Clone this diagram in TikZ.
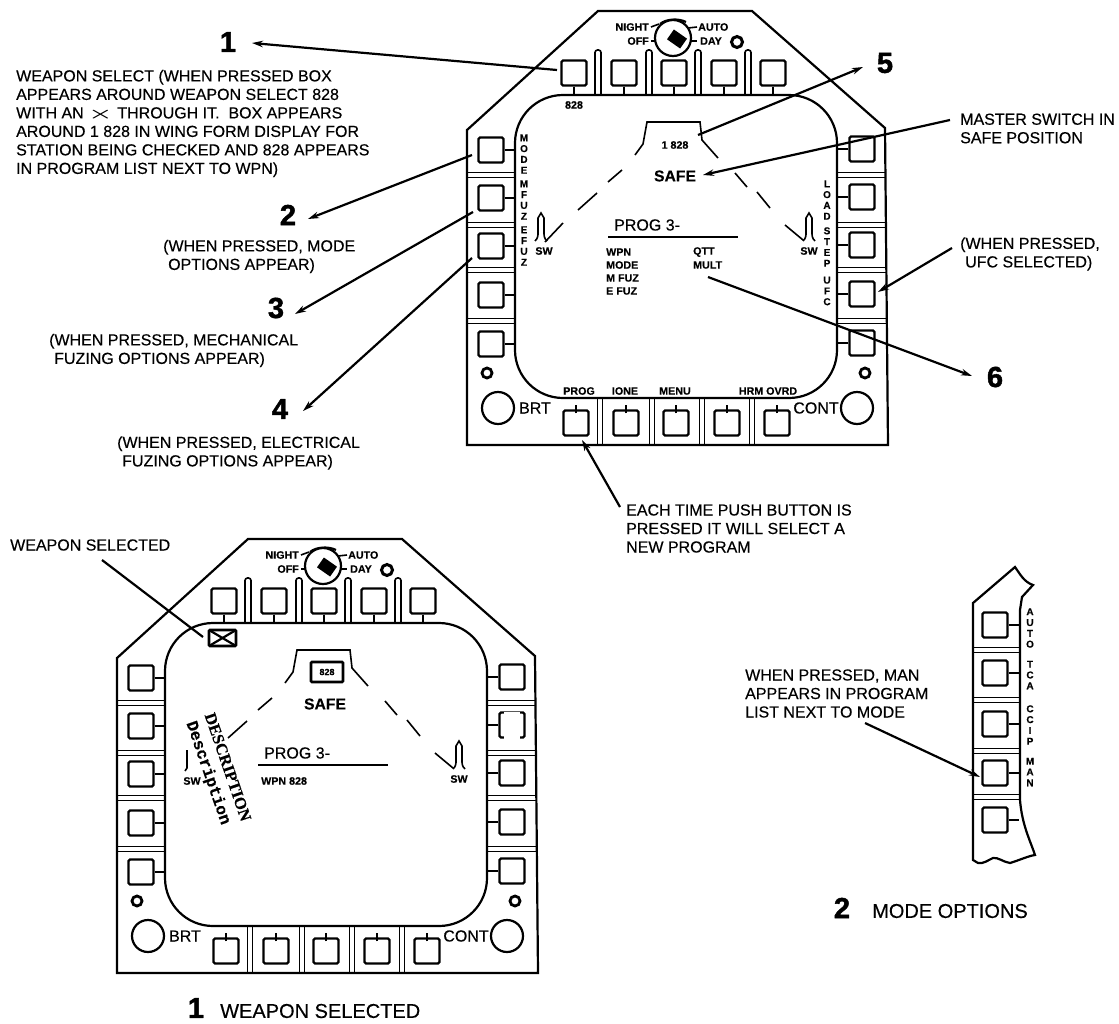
\documentclass[tikz,border=0pt]{standalone}
\usepackage{fontspec}
\setmainfont{Liberation Sans}
\newfontfamily\notefont[FakeBold=0.35]{Liberation Sans}
\newfontfamily\digitfont[FakeBold=1.6]{Liberation Sans}
\newfontfamily\descserif[FakeBold=0.5]{Liberation Serif}
\newfontfamily\descmono[FakeBold=0.5]{Liberation Mono}
\usetikzlibrary{arrows.meta}

% the panel shared by both displays
\newcommand{\mfdface}{%
  % outer case and screen
  \draw[case] (467,445) -- (467,130) -- (598,11) -- (752,11) -- (885,128) -- (888,445) -- cycle;
  \draw[case, rounded corners=48pt] (515,95) rectangle (837,398);
  % top row with slots
  \foreach \i/\x in {1/574,2/624,3/674,4/724,5/773} {
    \node[btn] (btnT\i) at (\x,73) {};
    \draw[thin line] (btnT\i.south) -- ++(0,9.5);
  }
  \foreach \x in {598,649,698,748}
    \draw[thin line, rounded corners=2.5pt] (\x-3,95) -- (\x-3,50) -- (\x+3,50) -- (\x+3,95);
  % left and right columns
  \foreach \i/\y in {1/150,2/198,3/246,4/295,5/344} {
    \node[btn] (btnL\i) at (491,\y) {};
    \draw[thin line] (btnL\i.east) -- ++(11.5,0);
    \node[btn] (btnR\i) at (862,\y-1) {};
    \draw[thin line] (btnR\i.west) -- ++(-12.5,0);
  }
  \foreach \y in {175,225,270,321} {
    \draw[thin line] (467,\y-2.5) -- (515,\y-2.5);
    \draw[thin line] (467,\y+2.5) -- (515,\y+2.5);
    \draw[thin line] (837,\y-2.5) -- (886,\y-2.5);
    \draw[thin line] (837,\y+2.5) -- (886,\y+2.5);
  }
  % bottom row
  \foreach \i/\x in {1/576,2/626,3/676,4/727,5/777} {
    \node[btn] (btnB\i) at (\x,423) {};
    \draw[thin line] ([yshift=-4pt]btnB\i.north) -- ++(0,-8);
  }
  \foreach \x in {600,652,702,752} {
    \draw[thin line] (\x-2.5,398) -- (\x-2.5,445);
    \draw[thin line] (\x+2.5,398) -- (\x+2.5,445);
  }
  % knobs
  \draw[case, line width=2.8pt] (487,373) circle (5pt);
  \draw[case, line width=2.8pt] (865,373) circle (5pt);
  \draw[case] (498,408) circle (16pt);
  \draw[case] (857,408) circle (16pt);
  \node[panel big] (lblBrt) at (535,408) {BRT};
  \node[panel big] (lblCont) at (816,408) {CONT};
  % rotary switch
  \draw[case] (673,38) circle (18pt);
  \fill[rotate around={-35:(677,39)}] (669,33) rectangle (685,45);
  \draw[case] (660,24) .. controls (666,19) and (678,18) .. (686,22);
  \draw[thin line] (651,41) -- (656,41);
  \draw[thin line] (651,27) -- (659,24);
  \draw[thin line] (691,41) -- (697,41);
  \draw[thin line] (688,28) -- (697,27);
  \draw[case, line width=3pt] (737,42) circle (5.5pt);
  \node[panel small, anchor=east] (lblNight) at (649,27) {NIGHT};
  \node[panel small, anchor=east] (lblOff) at (649,41) {OFF};
  \node[panel small, anchor=west] (lblAuto) at (698,27) {AUTO};
  \node[panel small, anchor=west] (lblDay) at (700,41) {DAY};
  % station symbol
  \draw[thin line] (635,155) -- (643,144) -- (647,122) -- (700,122) -- (702,140) -- (718,158);
  \draw[thin line] (608,182) -- (622,170);
  \draw[thin line] (578,210) -- (597,193);
  \draw[thin line] (735,173) -- (747,187);
  \draw[thin line] (757,192) -- (770,208);
  \draw[thin line] (785,225) -- (803,240);
  \draw[thin line] (803,241) .. controls (806,238) and (806,236) .. (806,232) -- (806,218) -- (809,213) -- (812,218) -- (812,232) .. controls (812,236) and (812,238) .. (815,241);
  \node[panel small] (lblSwR) at (809,251) {SW};
  \node[panel safe] (lblSafe) at (675,176) {SAFE};
  \node[panel big, anchor=west] (lblProg) at (614,225) {PROG 3-};
  \draw[thin line] (608,237) -- (738,237);
}

\begin{document}
\begin{tikzpicture}[x=1pt, y=-1pt,
    case/.style={line width=2.2pt},
    thin line/.style={line width=1.6pt},
    btn/.style={draw, line width=2.2pt, rounded corners=1.5pt, minimum size=25pt, inner sep=0pt},
    leader/.style={-{Stealth[length=11pt, width=6.5pt]}, line width=2.2pt},
    txt/.style={font=\notefont\fontsize{16}{18.5}\selectfont, align=left, anchor=west, inner sep=0pt},
    caption/.style={font=\notefont\fontsize{20}{22}\selectfont, anchor=west, inner sep=0pt},
    digit/.style={font=\digitfont\fontsize{29}{29}\bfseries\selectfont, inner sep=0pt},
    panel small/.style={font=\notefont\fontsize{10.7}{12}\bfseries\selectfont, inner sep=0pt},
    panel big/.style={font=\notefont\fontsize{16}{18}\selectfont, inner sep=0pt},
    panel safe/.style={font=\notefont\fontsize{15.7}{18}\bfseries\selectfont, inner sep=0pt},
    vlabel/.style={font=\notefont\fontsize{10}{10.8}\bfseries\selectfont, align=center, inner sep=0pt}
  ]
  \useasboundingbox (0,0) rectangle (1119,1023);

  % upper display
  \begin{scope}[name prefix=top-]
    \mfdface
    \node[panel small] (lbl828) at (574,105) {828};
    \node[panel small] (lblStation) at (675,145) {1 828};
    \draw[thin line] (545,242) -- (563,223);
    \draw[thin line] (535,241) .. controls (538,238) and (538,236) .. (538,232) -- (538,218) -- (541,213) -- (544,218) -- (544,232) .. controls (544,236) and (544,238) .. (547,241);
    \node[panel small] (lblSwL) at (544,251) {SW};
    \node[vlabel] (lblMode) at (524,154) {M\\O\\D\\E};
    \node[vlabel] (lblMfuz) at (524,200) {M\\F\\U\\Z};
    \node[vlabel] (lblEfuz) at (524,246) {E\\F\\U\\Z};
    \node[vlabel] (lblLoad) at (827,200) {L\\O\\A\\D};
    \node[vlabel] (lblStep) at (827,247) {S\\T\\E\\P};
    \node[vlabel] (lblUfc) at (827,291) {U\\F\\C};
    \node[panel small, anchor=west] (lblWpn) at (606,252) {WPN};
    \node[panel small, anchor=west] (lblModeRow) at (606,265) {MODE};
    \node[panel small, anchor=west] (lblMfuzRow) at (606,278) {M FUZ};
    \node[panel small, anchor=west] (lblEfuzRow) at (606,291) {E FUZ};
    \node[panel small, anchor=west] (lblQty) at (693,252) {QTT};
    \node[panel small, anchor=west] (lblMult) at (693,265) {MULT};
    \node[panel small] (lblProgKey) at (579,391) {PROG};
    \node[panel small] (lblIone) at (625,391) {IONE};
    \node[panel small] (lblMenu) at (675,391) {MENU};
    \node[panel small] (lblHrm) at (768,391) {HRM OVRD};
  \end{scope}

  % lower display
  \begin{scope}[shift={(-350,528)}, name prefix=low-]
    \mfdface
    \draw[line width=2.8pt, rounded corners=1pt] (559,102) rectangle (586,118);
    \draw[case] (559,102) -- (586,118);
    \draw[case] (559,118) -- (586,102);
    \draw[line width=2.6pt, rounded corners=1pt] (661,134) rectangle (693,154);
    \node[font=\notefont\fontsize{9}{10}\bfseries\selectfont, inner sep=0pt] (lblBoxed) at (677,144) {828};
    \draw[thin line] (537,222) -- (537,240) -- (535,243);
    \node[panel small] (lblSwL) at (542,253) {SW};
    \node[panel small, anchor=west] (lblWpn) at (611,253) {WPN 828};
    % gaps in the second right key
    \fill[white] (854,184) rectangle (870,188);
    \fill[white] (854,207) rectangle (870,211);
  \end{scope}
  \node[font=\descserif\fontsize{16.3}{18}\bfseries\selectfont, rotate=-71, inner sep=0pt] (descUpper) at (228,767) {DESCRIPTION};
  \node[font=\descmono\fontsize{16.4}{18}\bfseries\selectfont, rotate=-71, inner sep=0pt] (descLower) at (208,773) {Description};

  % mode option strip
  \draw[case] (973,860) -- (973,603) -- (1015,567) .. controls (1020,574) and (1024,582) .. (1033,585) -- (1022,597) -- (1020,610) -- (1020,800) .. controls (1022,825) and (1030,840) .. (1035,855) .. controls (1028,856) and (1020,860) .. (1010,863) .. controls (1003,862) and (998,857) .. (993,858) .. controls (988,860) and (984,864) .. (978,863) -- cycle;
  \foreach \i/\y in {1/625,2/673,3/724,4/773,5/820} {
    \node[btn] (btnM\i) at (995,\y) {};
    \draw[thin line] (btnM\i.east) -- ++(10.5,0);
  }
  \foreach \y in {650,700,751,797} {
    \draw[thin line] (973,\y-2.5) -- (1020,\y-2.5);
    \draw[thin line] (973,\y+2.5) -- (1020,\y+2.5);
  }
  \node[vlabel] (lblAuto) at (1030,628) {A\\U\\T\\O};
  \node[vlabel] (lblTca) at (1030,675) {T\\C\\A};
  \node[vlabel] (lblCcip) at (1030,725) {C\\C\\I\\P};
  \node[vlabel] (lblMan) at (1030,772) {M\\A\\N};

  % numbers
  \node[digit] (numOne) at (228,42) {1};
  \node[digit] (numTwo) at (288,215) {2};
  \node[digit] (numThree) at (276,308) {3};
  \node[digit] (numFour) at (280,409) {4};
  \node[digit] (numFive) at (885,63) {5};
  \node[digit] (numSix) at (995,377) {6};
  \node[digit] (capOne) at (196,1008) {1};
  \node[digit] (capTwo) at (842,908) {2};

  % notes
  \node[txt] (noteWeapon) at (16,123.5) {WEAPON SELECT (WHEN PRESSED BOX\\
    APPEARS AROUND WEAPON SELECT 828\\
    WITH AN \scalebox{1.6}[0.9]{\boldmath$\times$} THROUGH IT.\ \ BOX APPEARS\\
    AROUND 1 828 IN WING FORM DISPLAY FOR\\
    STATION BEING CHECKED AND 828 APPEARS\\
    IN PROGRAM LIST NEXT TO WPN)};
  \node[txt] (noteMode) at (163,256.5) {(WHEN PRESSED, MODE\\\hspace*{5pt}OPTIONS APPEAR)};
  \node[txt] (noteMech) at (49,350.5) {(WHEN PRESSED, MECHANICAL\\\hspace*{5pt}FUZING OPTIONS APPEAR)};
  \node[txt] (noteElec) at (117,453) {(WHEN PRESSED, ELECTRICAL\\\hspace*{5pt}FUZING OPTIONS APPEAR)};
  \node[txt] (noteMaster) at (960,128.5) {MASTER SWITCH IN\\SAFE POSITION};
  \node[txt] (noteUfc) at (960,254) {(WHEN PRESSED,\\\hspace*{5pt}UFC SELECTED)};
  \node[txt] (noteEach) at (626,528.5) {EACH TIME PUSH BUTTON IS\\PRESSED IT WILL SELECT A\\NEW PROGRAM};
  \node[txt] (noteSelected) at (10,545) {WEAPON SELECTED};
  \node[txt] (noteMan) at (745,693.5) {WHEN PRESSED, MAN\\APPEARS IN PROGRAM\\LIST NEXT TO MODE};
  \node[caption] (capWeapon) at (220,1011) {WEAPON SELECTED};
  \node[caption] (capMode) at (872,911) {MODE OPTIONS};

  % leader ends
  \coordinate (srcOne) at (557,70);
  \coordinate (tipOne) at (252,43);
  \coordinate (srcTwo) at (472,155);
  \coordinate (tipTwo) at (308,219);
  \coordinate (srcThree) at (473,212);
  \coordinate (tipThree) at (295,314);
  \coordinate (srcFour) at (472,258);
  \coordinate (tipFour) at (303,411);
  \coordinate (srcFive) at (698,135);
  \coordinate (tipFive) at (863,67);
  \coordinate (srcMaster) at (950,120);
  \coordinate (tipMaster) at (703,175);
  \coordinate (srcUfc) at (952,248);
  \coordinate (tipUfc) at (878,292);
  \coordinate (srcSix) at (708,277);
  \coordinate (tipSix) at (972,376);
  \coordinate (srcEach) at (620,507);
  \coordinate (tipEach) at (582,440);
  \coordinate (srcSelected) at (102,560);
  \coordinate (tipSelected) at (203,637);
  \coordinate (srcMan) at (865,723);
  \coordinate (tipMan) at (980,777);

  % leaders
  \foreach \n in {One,Two,Three,Four,Five,Master,Ufc,Six,Each,Man}
    \draw[leader] (src\n) -- (tip\n);
  \draw[line width=2.2pt] (srcSelected) -- (tipSelected);
\end{tikzpicture}
\end{document}
